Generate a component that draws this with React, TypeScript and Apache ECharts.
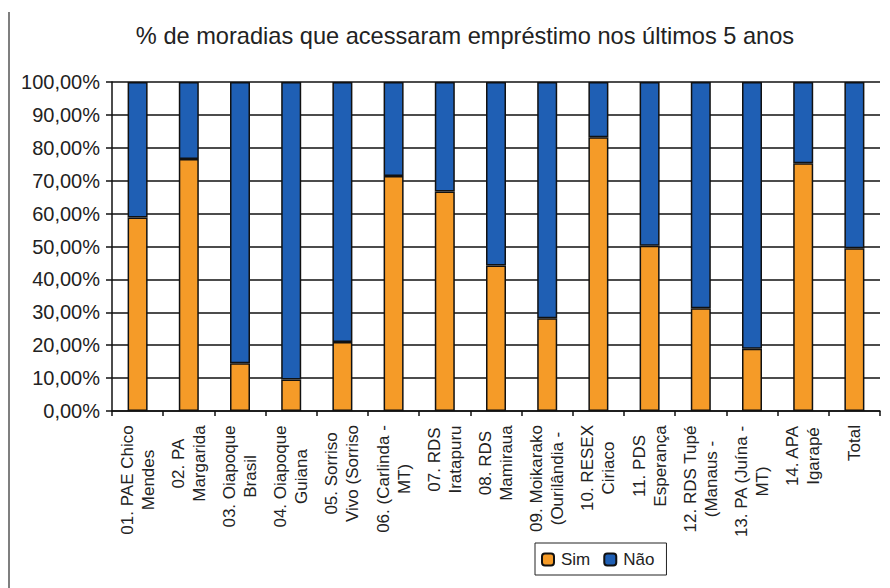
import React, { useEffect, useRef } from "react";
import * as echarts from "echarts";

const titleText = "% de moradias que acessaram empréstimo nos últimos 5 anos";
const categories = [
  "01. PAE Chico\nMendes",
  "02. PA\nMargarida",
  "03. Oiapoque\nBrasil",
  "04. Oiapoque\nGuiana",
  "05. Sorriso\nVivo (Sorriso",
  "06. (Carlinda -\nMT)",
  "07. RDS\nIratapuru",
  "08. RDS\nMamiraua",
  "09. Moikarako\n(Ourilândia -",
  "10. RESEX\nCiriaco",
  "11. PDS\nEsperança",
  "12. RDS Tupé\n(Manaus -",
  "13. PA (Juína -\nMT)",
  "14. APA\nIgarapé",
  "Total",
];
const simValues = [58.8, 76.6, 14.5, 9.6, 21.0, 71.4, 66.7, 44.2, 28.2, 83.2, 50.2, 31.2, 18.9, 75.3, 49.5];
const naoValues = simValues.map((v) => Math.round((100 - v) * 10) / 10);
const seriesNames = ["Sim", "Não"];
const colors = ["#F59B28", "#1F5FB4"];

const FONT = '"Liberation Sans", Arial, sans-serif';

export default function App() {
  const ref = useRef<HTMLDivElement>(null);
  useEffect(() => {
    if (!ref.current) return;
    const chart = echarts.init(ref.current, null, { renderer: "svg" });

    const canvas = document.createElement("canvas");
    const ctx = canvas.getContext("2d")!;
    ctx.font = `17px ${FONT}`;
    const rich: Record<string, any> = {};
    categories.forEach((c, i) => {
      const w = Math.max(...c.split("\n").map((l) => ctx.measureText(l).width));
      rich["c" + i] = {
        width: Math.ceil(w) + 2,
        align: "center",
        fontSize: 17,
        lineHeight: 21,
        fontFamily: FONT,
        color: "#222",
      };
    });

    chart.setOption({
      animation: false,
      backgroundColor: "#fff",
      title: {
        text: titleText,
        left: 460,
        top: 19,
        textAlign: "center",
        textStyle: { fontSize: 23.6, fontWeight: "normal", color: "#222", fontFamily: FONT },
      },
      grid: { left: 112, right: 10, top: 82, bottom: 177, containLabel: false },
      legend: {
        data: seriesNames,
        left: 535,
        top: 543,
        orient: "horizontal",
        itemWidth: 12,
        itemHeight: 12,
        itemGap: 13,
        padding: [8, 12, 7, 6],
        borderColor: "#222",
        borderWidth: 1,
        textStyle: { fontSize: 17, color: "#222", fontFamily: FONT, padding: [0, 0, 0, 2] },
      },
      xAxis: {
        type: "category",
        data: categories,
        axisLine: { lineStyle: { color: "#111", width: 1.5 } },
        axisTick: { show: true, length: 5, inside: false, lineStyle: { color: "#111", width: 1.5 } },
        axisLabel: {
          rotate: 90,
          interval: 0,
          margin: 13,
          formatter: (value: string, idx: number) =>
            value
              .split("\n")
              .map((l) => `{c${idx}|${l}}`)
              .join("\n"),
          rich,
        },
        splitLine: { show: false },
      },
      yAxis: {
        type: "value",
        min: 0,
        max: 100,
        interval: 10,
        axisLine: { show: true, lineStyle: { color: "#111", width: 1.5 } },
        axisTick: { show: true, length: 6, lineStyle: { color: "#111", width: 1.5 } },
        axisLabel: {
          margin: 12,
          fontSize: 20,
          color: "#222",
          fontFamily: FONT,
          formatter: (v: number) => v.toFixed(2).replace(".", ",") + "%",
        },
        splitLine: { show: true, lineStyle: { color: "#111", width: 1.5 } },
      },
      series: [
        {
          name: seriesNames[0],
          type: "bar",
          stack: "total",
          data: simValues,
          barWidth: 20,
          itemStyle: { color: colors[0], borderColor: "#111", borderWidth: 1.5 },
        },
        {
          name: seriesNames[1],
          type: "bar",
          stack: "total",
          data: naoValues,
          barWidth: 20,
          itemStyle: { color: colors[1], borderColor: "#111", borderWidth: 1.5 },
        },
      ],
      graphic: [
        {
          type: "line",
          shape: { x1: 9, y1: 12, x2: 9, y2: 588 },
          style: { stroke: "#555", lineWidth: 1.5 },
          silent: true,
        },
      ],
    });
    return () => chart.dispose();
  }, []);
  return <div ref={ref} style={{ width: 890, height: 588, position: "absolute", left: 0, top: 0 }} />;
}
